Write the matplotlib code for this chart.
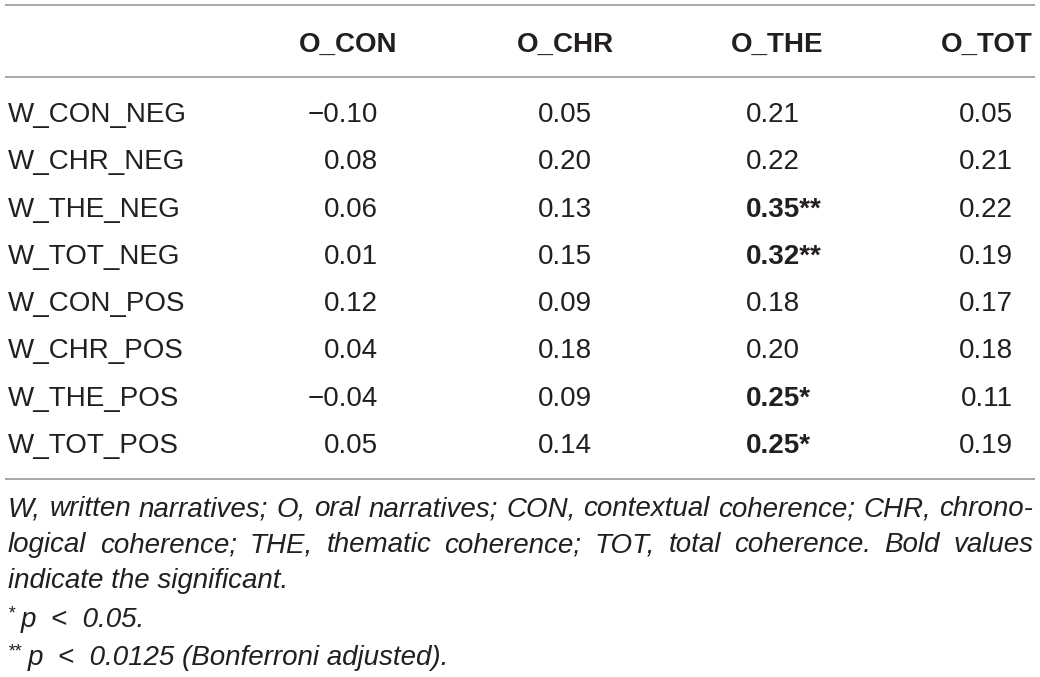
import matplotlib
matplotlib.use("Agg")
import matplotlib.pyplot as plt

# table content
rows = ["W_CON_NEG", "W_CHR_NEG", "W_THE_NEG", "W_TOT_NEG",
        "W_CON_POS", "W_CHR_POS", "W_THE_POS", "W_TOT_POS"]
columns = ["O_CON", "O_CHR", "O_THE", "O_TOT"]

o_con = [-0.10, 0.08, 0.06, 0.01, 0.12, 0.04, -0.04, 0.05]
o_chr = [0.05, 0.20, 0.13, 0.15, 0.09, 0.18, 0.09, 0.14]
o_the = [0.21, 0.22, 0.35, 0.32, 0.18, 0.20, 0.25, 0.25]
o_the_sig = ["", "", "**", "**", "", "", "*", "*"]
o_tot = [0.05, 0.21, 0.22, 0.19, 0.17, 0.18, 0.11, 0.19]

note_lines = [
    "W, written narratives; O, oral narratives; CON, contextual coherence; CHR, chrono-",
    "logical coherence; THE, thematic coherence; TOT, total coherence. Bold values",
    "indicate the significant.",
]
star_notes = [("*", "p  <  0.05."), ("**", "p  <  0.0125 (Bonferroni adjusted).")]

FONT = "Liberation Sans"
INK = "#231f20"
RULE = "#8f8f8f"


def fmt(v):
    return f"{v:.2f}".replace("-", "\u2212")


fig = plt.figure(figsize=(10.4, 6.77), dpi=100)
ax = fig.add_axes([0, 0, 1, 1])
ax.set_xlim(0, 1040)
ax.set_ylim(677, 0)
ax.axis("off")

# horizontal rules
for y in (5, 77, 479):
    ax.plot([5, 1035], [y, y], color=RULE, lw=1.1, solid_capstyle="butt")

# header
header_x = [348, 565, 777, 987]
for x, name in zip(header_x, columns):
    ax.text(x, 52, name, ha="center", va="baseline", fontsize=20,
            fontweight="bold", family=FONT, color=INK)

# body
y0, step = 122, 47.3
for i, label in enumerate(rows):
    y = y0 + i * step
    ax.text(8, y, label, ha="left", va="baseline", fontsize=20, family=FONT, color=INK)
    ax.text(378, y, fmt(o_con[i]), ha="right", va="baseline", fontsize=20, family=FONT, color=INK)
    ax.text(592, y, fmt(o_chr[i]), ha="right", va="baseline", fontsize=20, family=FONT, color=INK)
    bold = o_the_sig[i] != ""
    ax.text(746, y, fmt(o_the[i]) + o_the_sig[i], ha="left", va="baseline", fontsize=20,
            family=FONT, color=INK, fontweight="bold" if bold else "normal")
    ax.text(1013, y, fmt(o_tot[i]), ha="right", va="baseline", fontsize=20, family=FONT, color=INK)

# footnote, first two lines justified
renderer = fig.canvas.get_renderer()
note_kw = dict(va="baseline", fontsize=20, family=FONT, style="italic", color=INK)


def justify(words, y, x0, x1):
    texts = [ax.text(0, y, w, **note_kw) for w in words]
    widths = [t.get_window_extent(renderer).width for t in texts]
    gap = (x1 - x0 - sum(widths)) / (len(words) - 1)
    x = x0
    for t, w in zip(texts, widths):
        t.set_x(x)
        x += w + gap


base = [516, 552, 588, 627, 665]
justify(note_lines[0].split(), base[0], 8, 1033)
justify(note_lines[1].split(), base[1], 8, 1033)
ax.text(8, base[2], note_lines[2], ha="left", **note_kw)

for (stars, txt), y in zip(star_notes, base[3:]):
    s = ax.text(8, y - 9, stars, ha="left", va="baseline", fontsize=13,
                family=FONT, style="italic", color=INK)
    w = s.get_window_extent(renderer).width
    ax.text(8 + w + 6, y, txt, ha="left", **note_kw)

fig.savefig("out.png", dpi=100)
plt.close(fig)
